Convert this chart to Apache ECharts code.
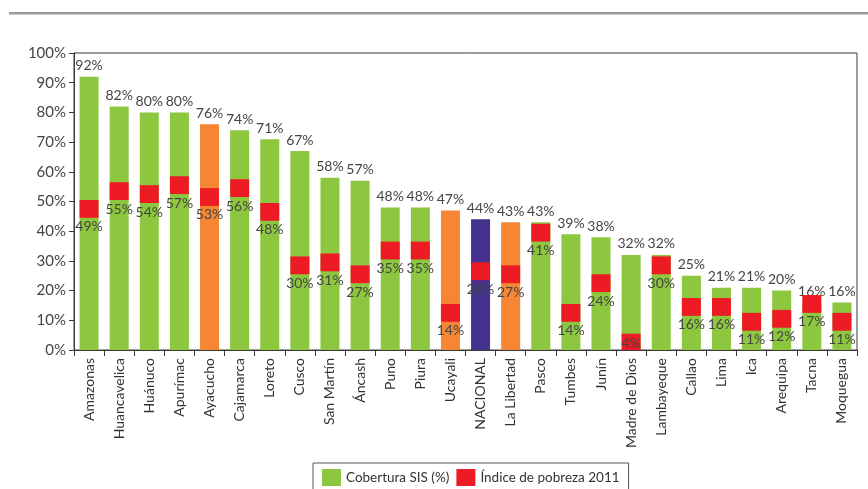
<!DOCTYPE html>
<html>
<head>
<meta charset="utf-8">
<script src="https://cdn.jsdelivr.net/npm/echarts@6/dist/echarts.min.js"></script>
<style>
  html, body { margin: 0; padding: 0; background: #fff; }
  #chart { width: 868px; height: 489px; }
</style>
</head>
<body>
<div id="chart"></div>
<script>
// Regions of Peru: SIS insurance coverage vs. 2011 poverty index (%)
const regions = ['Amazonas', 'Huancavelica', 'Huánuco', 'Apurímac', 'Ayacucho', 'Cajamarca', 'Loreto', 'Cusco',
  'San Martín', 'Áncash', 'Puno', 'Piura', 'Ucayali', 'NACIONAL', 'La Libertad', 'Pasco', 'Tumbes', 'Junín',
  'Madre de Dios', 'Lambayeque', 'Callao', 'Lima', 'Ica', 'Arequipa', 'Tacna', 'Moquegua'];
const coverage = [92, 82, 80, 80, 76, 74, 71, 67, 58, 57, 48, 48, 47, 44, 43, 43, 39, 38, 32, 32, 25, 21, 21, 20, 16, 16];
const poverty = [49, 55, 54, 57, 53, 56, 48, 30, 31, 27, 35, 35, 14, 28, 27, 41, 14, 24, 4, 30, 16, 16, 11, 12, 17, 11];
// Regions highlighted with a different bar colour
const orangeRegions = ['Ayacucho', 'Ucayali', 'La Libertad'];
const nationalLabel = 'NACIONAL';
const yTicks = [0, 10, 20, 30, 40, 50, 60, 70, 80, 90, 100];

const GREEN = '#8dc63f', RED = '#ed1c24', ORANGE = '#f58634', PURPLE = '#45318e';
const FONT = 'Lato, "Open Sans", sans-serif';

// The poverty marker is a 6-point band sitting just around the poverty value
const BAND_ABOVE = 1.5, BAND_BELOW = 4.5;
const bandBase = poverty.map(p => Math.max(0, p - BAND_BELOW));
const bandHeight = poverty.map((p, i) => p + BAND_ABOVE - bandBase[i]);

const coverageData = coverage.map((v, i) => {
  const name = regions[i];
  let color = GREEN;
  if (orangeRegions.includes(name)) color = ORANGE;
  if (name === nationalLabel) color = PURPLE;
  return { value: v, itemStyle: { color } };
});

const povertyData = bandHeight.map((h, i) => ({
  value: h,
  label: bandBase[i] === 0 ? { position: 'insideBottom', distance: 0 } : undefined
}));

const chart = echarts.init(document.getElementById('chart'));
chart.setOption({
  animation: false,
  textStyle: { fontFamily: FONT },
  graphic: [{
    type: 'rect', shape: { x: 9, y: 12, width: 860, height: 2.5 },
    style: { fill: '#9a9a9a' }, silent: true
  }],
  grid: {
    left: 74, right: 11, top: 53, bottom: 139,
    show: true, borderColor: '#3a3a3a', borderWidth: 1, backgroundColor: 'transparent'
  },
  legend: {
    left: 313, top: 463,
    data: [
      { name: 'Cobertura SIS (%)', icon: 'rect' },
      { name: 'Índice de pobreza 2011', icon: 'rect' }
    ],
    itemWidth: 19, itemHeight: 17, itemGap: 7,
    padding: [6, 9, 8, 9],
    borderColor: '#555', borderWidth: 1,
    textStyle: { fontSize: 13.5, color: '#333', fontFamily: FONT }
  },
  xAxis: {
    type: 'category',
    data: regions,
    axisLine: { lineStyle: { color: '#3a3a3a', width: 1 } },
    axisTick: { show: true, length: 6, lineStyle: { color: '#3a3a3a' } },
    axisLabel: {
      interval: 0, rotate: 90, fontSize: 14, color: '#333', margin: 8, fontFamily: FONT
    }
  },
  yAxis: {
    type: 'value', min: yTicks[0], max: yTicks[yTicks.length - 1], interval: 10,
    axisLine: { show: true, lineStyle: { color: '#3a3a3a', width: 1 } },
    axisTick: { show: true, length: 5, lineStyle: { color: '#3a3a3a' } },
    splitLine: { show: false },
    axisLabel: { formatter: '{value}%', fontSize: 15, color: '#444', margin: 8, fontFamily: FONT }
  },
  series: [
    {
      name: 'Cobertura SIS (%)', type: 'bar', barWidth: 19, barGap: '-100%',
      itemStyle: { color: GREEN },
      data: coverageData,
      label: {
        show: true, position: 'top', distance: 4, formatter: '{c}%',
        fontSize: 14, color: '#444', fontFamily: FONT
      },
      z: 2
    },
    {
      name: 'base', type: 'bar', stack: 'band', barWidth: 19, barGap: '-100%',
      itemStyle: { color: 'transparent' }, silent: true,
      data: bandBase, z: 3
    },
    {
      name: 'Índice de pobreza 2011', type: 'bar', stack: 'band', barWidth: 19, barGap: '-100%',
      itemStyle: { color: RED },
      data: povertyData,
      label: {
        show: true, position: 'bottom', distance: 2,
        formatter: p => poverty[p.dataIndex] + '%',
        fontSize: 14, color: '#444', fontFamily: FONT
      },
      z: 3
    }
  ]
});
</script>
</body>
</html>
